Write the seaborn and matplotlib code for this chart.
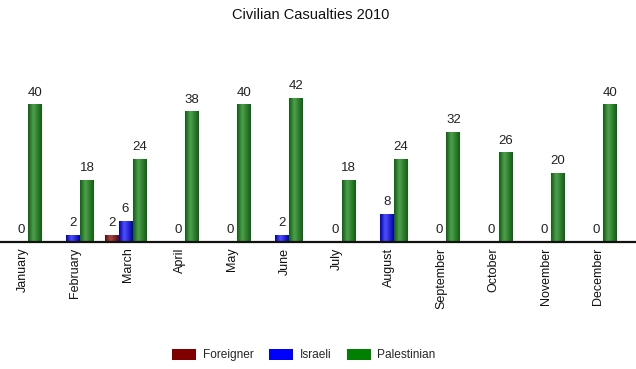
import numpy as np
import pandas as pd
import matplotlib
matplotlib.use("Agg")
import matplotlib.pyplot as plt
import matplotlib.transforms as mtransforms
import seaborn as sns
from matplotlib.patches import Patch
from matplotlib.colors import LinearSegmentedColormap

months = ["January", "February", "March", "April", "May", "June", "July",
          "August", "September", "October", "November", "December"]
series = ["Foreigner", "Israeli", "Palestinian"]
foreigner = [np.nan, np.nan, 2, np.nan, np.nan, np.nan, np.nan, np.nan,
             np.nan, np.nan, np.nan, np.nan]
israeli = [0, 2, 6, 0, 0, 2, 0, 8, 0, 0, 0, 0]
palestinian = [40, 18, 24, 38, 40, 42, 18, 24, 32, 26, 20, 40]
colors = ["#800000", "#0000ff", "#008000"]
edge_cols = ["#5c0a0a", "#0000a8", "#105e10"]
mid_cols = ["#a84848", "#5050ff", "#4fa04f"]

df = pd.DataFrame({
    "Month": months * 3,
    "Series": [s for s in series for _ in months],
    "Value": foreigner + israeli + palestinian,
})

sns.set_style("white")
plt.rcParams["font.family"] = ["Liberation Sans", "DejaVu Sans"]

fig = plt.figure(figsize=(6.36, 3.69), dpi=100)
ax = fig.add_axes([0, 127 / 369, 1, 182 / 369])

sns.barplot(data=df, x="Month", y="Value", hue="Series", hue_order=series,
            palette=colors, order=months, width=0.803, dodge=True,
            saturation=1, errorbar=None, linewidth=0, legend=False, ax=ax)

ax.set_xlim(-0.40, 11.76)
ax.set_ylim(0, 53.1)

# gradient (cylinder-like) fill for bars, labels above bars
grad = np.linspace(0, 1, 64).reshape(1, -1)
for i, cont in enumerate(ax.containers):
    cmap = LinearSegmentedColormap.from_list(
        series[i], [(0, edge_cols[i]), (0.38, mid_cols[i]), (1, edge_cols[i])])
    for p in cont.patches:
        h = p.get_height()
        if np.isnan(h):
            continue
        x0, w = p.get_x(), p.get_width()
        if h > 0:
            ax.imshow(grad, extent=[x0, x0 + w, 0, h], aspect="auto",
                      cmap=cmap, interpolation="bicubic", zorder=2)
            p.set_visible(False)
        ax.annotate(f"{h:g}", (x0 + w / 2, h), xytext=(0, 4.5),
                    textcoords="offset points", ha="center", va="bottom",
                    fontsize=9.5, color="#222222")

ax.set_xlim(-0.40, 11.76)
ax.set_ylim(0, 53.1)
ax.set_xlabel("")
ax.set_ylabel("")
ax.set_yticks([])
ax.tick_params(axis="x", length=0, pad=4, labelsize=9, labelrotation=90,
               colors="#111111")
shift = mtransforms.ScaledTranslation(2 / 100, 0, fig.dpi_scale_trans)
for lab in ax.get_xticklabels():
    lab.set_transform(lab.get_transform() + shift)
for s in ["top", "right", "left"]:
    ax.spines[s].set_visible(False)
ax.spines["bottom"].set_linewidth(1.6)
ax.spines["bottom"].set_color("#111111")
ax.spines["bottom"].set_zorder(5)

fig.text(311 / 636, 1 - 15 / 369, "Civilian Casualties 2010", ha="center",
         va="center", fontsize=10.5, color="#111111")

handles = [Patch(facecolor=c, edgecolor="none", label=s)
           for c, s in zip(colors, series)]
fig.legend(handles=handles, loc="center", bbox_to_anchor=(304 / 636, 1 - 355 / 369),
           ncol=3, frameon=False, fontsize=8.6, handlelength=2.0,
           handleheight=1.05, handletextpad=0.55, columnspacing=1.3)

fig.savefig("out.png", dpi=100)
